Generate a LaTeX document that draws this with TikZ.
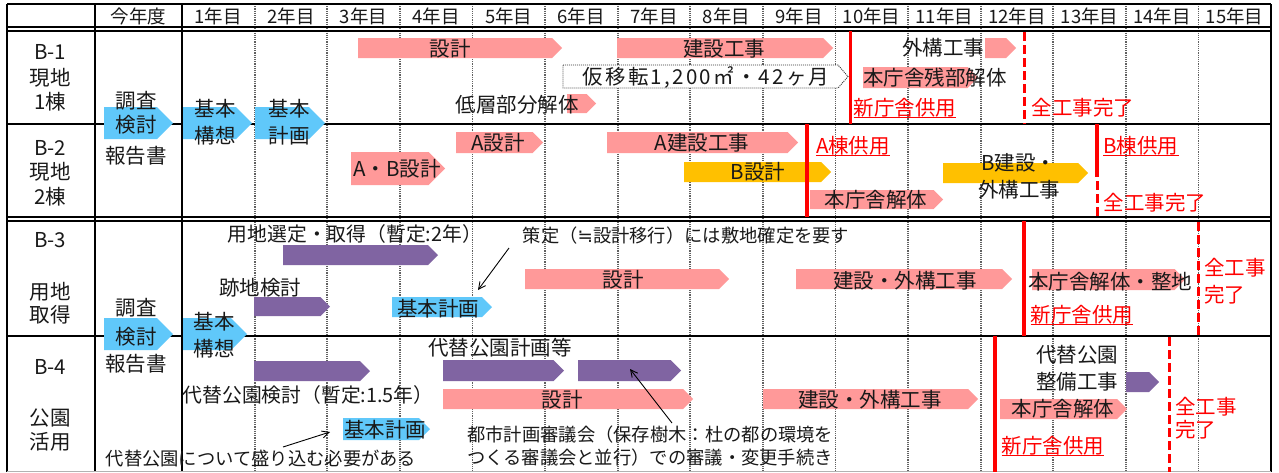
\documentclass[tikz,border=0pt]{standalone}
\usepackage{fontspec}
\setmainfont{Noto Sans CJK JP}
\newfontfamily\symfont{DejaVu Sans}
\usetikzlibrary{arrows.meta}
\definecolor{pk}{RGB}{255,153,153}
\definecolor{bl}{RGB}{96,200,250}
\definecolor{og}{RGB}{255,192,0}
\definecolor{pu}{RGB}{128,100,162}
\definecolor{rd}{RGB}{255,0,0}
\newcommand\gbar[5]{%
  \fill[#5] (#1,#3) -- ({#2-0.5*(#4-#3)},#3) -- (#2,{0.5*(#3+#4)}) -- ({#2-0.5*(#4-#3)},#4) -- (#1,#4) -- cycle;}
\newcommand\ulin[1]{\draw[uln] ([yshift=-0.4pt]#1.south west) -- ([yshift=-0.4pt]#1.south east);}
\begin{document}
\begin{tikzpicture}[x=1pt,y=-1pt,
 lbl/.style={font=\fontsize{20.5}{24}\selectfont, text=black!90, inner sep=0pt, text height=17pt, text depth=1.4pt},
 ann/.style={font=\fontsize{18.3}{22}\selectfont, text=black!90, inner sep=0pt, text height=15pt, text depth=1.1pt},
 annw/.style={font=\fontsize{19.8}{22}\selectfont, text=black!90, inner sep=0pt, text height=16pt, text depth=1.2pt},
 hdr/.style={font=\fontsize{18.5}{22}\selectfont, text=black!90, inner sep=0pt, text height=15.2pt, text depth=1.2pt},
 rlbl/.style={lbl, text=rd},
 vdot/.style={line width=1.8pt, black!62, dash pattern=on 1.2pt off 1pt},
 gridline/.style={line width=1.6pt, black},
 rsolid/.style={rd, line width=3.5pt},
 rdash/.style={rd, line width=3pt, dash pattern=on 9pt off 4pt},
 uln/.style={rd, line width=1.3pt},
 arr/.style={black, line width=0.9pt, -{Straight Barb[length=7pt,width=7pt]}},
 dbox/.style={black!80, line width=0.9pt, dash pattern=on 1pt off 1pt, fill=white},
]
\useasboundingbox (0,0) rectangle (1279,472);
\fill[white] (0,0) rectangle (1279,472);

% ---------- grid ----------
\foreach \i in {1,...,14} \draw[vdot] ({182+72.6*\i},4) -- ({182+72.6*\i},472);
\foreach \x in {7,95,182,1271} \draw[gridline] (\x,4) -- (\x,472);
\foreach \y in {4,27,31,124,217,221,336} \draw[gridline] (7,\y) -- (1271,\y);
\draw[black!30, line width=1pt] (7,471) -- (1271,471);

% ---------- header ----------
\node[hdr] (h0) at (138.5,16) {今年度};
\foreach \k in {1,...,15} \node[hdr] (h\k) at ({182+72.6*(\k-0.5)},16) {\k 年目};

% ---------- row labels ----------
\node[lbl] (r1a) at (50,52) {B-1};
\node[lbl] (r1b) at (50,78) {現地};
\node[lbl] (r1c) at (50,102) {1棟};
\node[lbl] (r2a) at (50,148) {B-2};
\node[lbl] (r2b) at (50,172) {現地};
\node[lbl] (r2c) at (50,197) {2棟};
\node[lbl] (r3a) at (50,240) {B-3};
\node[lbl] (r3b) at (50,292) {用地};
\node[lbl] (r3c) at (50,315) {取得};
\node[lbl] (r4a) at (50,367) {B-4};
\node[lbl] (r4b) at (50,418) {公園};
\node[lbl] (r4c) at (50,442) {活用};

% ---------- bars ----------
% B-1 / B-2 common
\gbar{104}{173}{107}{139}{bl}
\gbar{183}{252}{107}{139}{bl}
\gbar{255}{325}{107}{139}{bl}
% B-1
\gbar{358}{562}{38}{58}{pk}
\gbar{617}{833}{38}{58}{pk}
\draw[dbox] (563,65) -- (838,65) -- (848,76.5) -- (838,88) -- (563,88) -- cycle;
\gbar{567}{596}{94}{113}{pk}
\gbar{985}{1016}{38}{58}{pk}
\gbar{863}{978}{67}{88}{pk}
% B-2
\gbar{351}{445}{152}{185}{pk}
\gbar{456}{543}{132}{153}{pk}
\gbar{607}{798}{132}{153}{pk}
\gbar{684}{831}{162}{182}{og}
\gbar{810}{943}{190}{209}{pk}
\gbar{943}{1088}{163}{183}{og}
% B-3
\gbar{283}{438}{245}{265}{pu}
\gbar{254}{330}{297}{316}{pu}
\gbar{392}{492}{297}{317}{bl}
\gbar{525}{729}{269}{289}{pk}
\gbar{796}{1012}{269}{289}{pk}
\gbar{1032}{1185}{269}{290}{pk}
% B-3 / B-4 common
\gbar{104}{173}{318}{350}{bl}
\gbar{183}{247}{318}{350}{bl}
% B-4
\gbar{254}{370}{361}{381}{pu}
\gbar{443}{564}{360}{381}{pu}
\gbar{578}{681}{360}{381}{pu}
\gbar{443}{693}{389}{409}{pk}
\gbar{763}{978}{389}{409}{pk}
\gbar{343}{430}{418}{440}{bl}
\gbar{1126}{1159}{372}{392}{pu}
\gbar{1000}{1127}{399}{419}{pk}

% ---------- red milestone lines ----------
\draw[rsolid] (850.5,31) -- (850.5,124);
\draw[rdash] (1024,32) -- (1024,124);
\draw[rsolid] (807,124) -- (807,217);
\draw[rsolid] (1097,124) -- (1097,177);
\draw[rdash] (1097,181) -- (1097,217);
\draw[rsolid] (1024,221) -- (1024,336);
\draw[rdash] (1198,222) -- (1198,336);
\draw[rsolid] (995,336) -- (995,472);
\draw[rdash] (1169,337) -- (1169,472);

% ---------- texts: common ----------
\node[lbl] (c1a) at (136,101) {調査};
\node[lbl] (c1b) at (136,125) {検討};
\node[lbl] (c1c) at (136,156) {報告書};
\node[lbl] (k1a) at (215,109) {基本};
\node[lbl] (k1b) at (215,136) {構想};
\node[lbl] (k2a) at (289,109) {基本};
\node[lbl] (k2b) at (289,136) {計画};
\node[lbl] (c3a) at (136,308) {調査};
\node[lbl] (c3b) at (136,337) {検討};
\node[lbl] (c3c) at (136,364) {報告書};
\node[lbl] (k3a) at (214,322) {基本};
\node[lbl] (k3b) at (214,349) {構想};

% ---------- texts: B-1 ----------
\node[lbl] (t11) at (450,49) {設計};
\node[lbl] (t12) at (724,49) {建設工事};
\node[lbl] (t13) at (706,77) {\addfontfeature{LetterSpace=11}仮移転1,200㎡・42ヶ月};
\node[lbl] (t14) at (517,105) {低層部分解体};
\node[lbl] (t15) at (943,48) {外構工事};
\node[lbl] (t16) at (935,78) {本庁舎残部解体};
\node[rlbl] (t17) at (905,108) {新庁舎供用};
\ulin{t17}
\node[rlbl] (t18) at (1083,108) {全工事完了};

% ---------- texts: B-2 ----------
\node[lbl] (t21) at (397,169) {A・B設計};
\node[lbl] (t22) at (498,143) {A設計};
\node[lbl] (t23) at (702,143) {A建設工事};
\node[lbl] (t24) at (758,172) {B設計};
\node[rlbl] (t25) at (853,146) {A棟供用};
\ulin{t25}
\node[lbl] (t26) at (876,200) {本庁舎解体};
\node[lbl] (t27) at (1019,163) {B建設・};
\node[lbl] (t28) at (1019,190) {外構工事};
\node[rlbl] (t29) at (1141,146) {B棟供用};
\ulin{t29}
\node[rlbl] (t2a) at (1155,203) {全工事完了};

% ---------- texts: B-3 ----------
\node[annw] (t31) at (355,234) {用地選定・取得（暫定:2年）};
\node[ann] (t32) at (686,236) {策定（{\symfont ≒}設計移行）には敷地確定を要す};
\node[lbl] (t33) at (260,288) {跡地検討};
\node[lbl] (t34) at (438,309) {基本計画};
\node[lbl] (t35) at (623,280) {設計};
\node[lbl] (t36) at (905,281) {建設・外構工事};
\node[lbl] (t37) at (1110,282) {本庁舎解体・整地};
\node[rlbl] (t38) at (1082,315) {新庁舎供用};
\ulin{t38}
\node[rlbl, anchor=west] (t39) at (1204,268) {全工事};
\node[rlbl, anchor=west] (t3a) at (1204,295) {完了};
\coordinate (p3s) at (509,248);
\coordinate (p3e) at (478,290);
\draw[arr] (p3s) -- (p3e);

% ---------- texts: B-4 ----------
\node[annw] (t41) at (308,395) {代替公園検討（暫定:1.5年）};
\node[lbl] (t42) at (500,348) {代替公園計画等};
\node[lbl] (t43) at (562,400) {設計};
\node[lbl] (t44) at (870,400) {建設・外構工事};
\node[lbl] (t45) at (385,430) {基本計画};
\node[ann] (t46) at (261,459) {代替公園について盛り込む必要がある};
\node[ann, anchor=west] (t47) at (467,435) {都市計画審議会（保存樹木：杜の都の環境を};
\node[ann, anchor=west] (t48) at (467,458) {つくる審議会と並行）での審議・変更手続き};
\node[lbl] (t49) at (1077,355) {代替公園};
\node[lbl] (t4a) at (1077,382) {整備工事};
\node[lbl] (t4b) at (1063,409) {本庁舎解体};
\node[rlbl] (t4c) at (1053,446) {新庁舎供用};
\ulin{t4c}
\node[rlbl, anchor=west] (t4d) at (1175,407) {全工事};
\node[rlbl, anchor=west] (t4e) at (1175,430) {完了};
\coordinate (p4s) at (283,447);
\coordinate (p4e) at (330,432);
\draw[arr] (p4s) -- (p4e);
\coordinate (p5s) at (672,423);
\coordinate (p5e) at (630,369);
\draw[arr] (p5s) -- (p5e);
\end{tikzpicture}
\end{document}
